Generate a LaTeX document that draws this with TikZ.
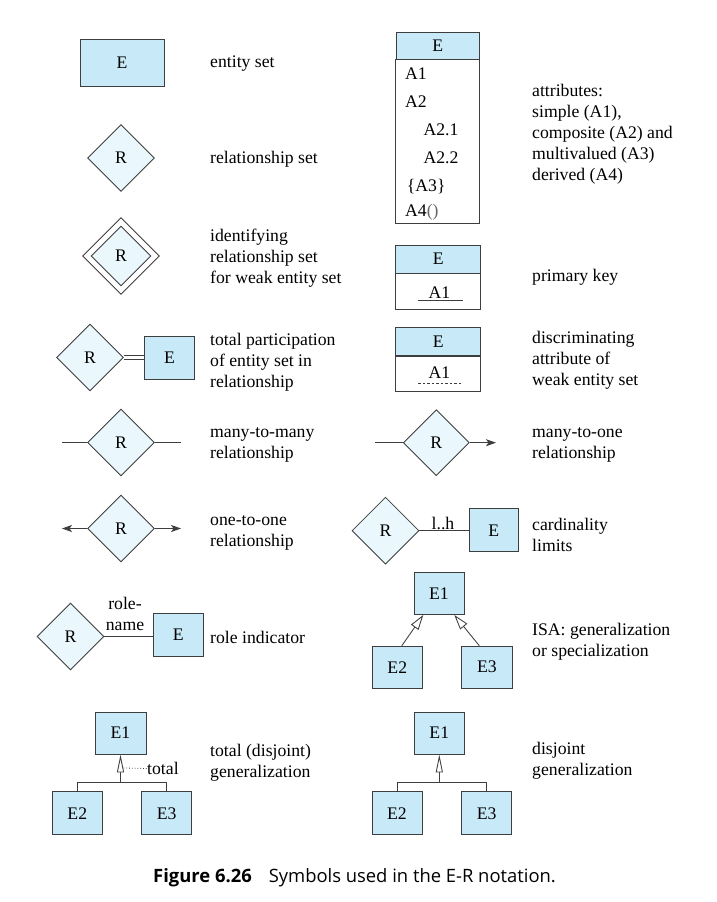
\documentclass[tikz,border=0pt]{standalone}
\usepackage{fontspec}
\setmainfont{Liberation Serif}
\newfontfamily\capfont{Open Sans}
\usetikzlibrary{shapes.geometric,arrows.meta,calc}

\definecolor{entfill}{RGB}{200,233,248}
\definecolor{relfill}{RGB}{234,247,253}
\definecolor{edgegray}{RGB}{62,62,62}

\tikzset{
  ent/.style={draw=edgegray, line width=0.95pt, fill=entfill, minimum width=50pt,
              minimum height=43pt, inner sep=0pt},
  rel/.style={draw=edgegray, line width=0.85pt, fill=relfill, shape=diamond, aspect=1,
              minimum width=67pt, minimum height=67pt, inner sep=0pt},
  lab/.style={anchor=west, align=left, inner sep=0pt},
  attr/.style={anchor=west, inner sep=0pt},
  conn/.style={draw=edgegray, line width=0.85pt},
  onetip/.style={conn, -{Stealth[length=10pt,width=7pt,inset=2.5pt]}},
  isatip/.style={conn, -{Triangle[open,length=15pt,width=9pt,fill=white]}},
  gentip/.style={conn, -{Triangle[open,length=18pt,width=7pt,fill=white]}},
  boxline/.style={draw=edgegray, line width=0.95pt}
}

\begin{document}
\begin{tikzpicture}[x=1pt,y=-1pt,font=\fontsize{17.7}{21}\selectfont]
\useasboundingbox (0,0) rectangle (717,902);
\fill[white] (0,0) rectangle (717,902);

% ---------- left column ----------
% entity set
\node[ent, minimum width=84pt, minimum height=47pt] (ent1) at (122,62.5) {E};
\node[lab] (lent) at (210,64) {entity set};

% relationship set
\node[rel] (rel1) at (121,158) {R};
\node[lab] (lrel) at (210,159.5) {relationship set};

% identifying relationship set
\node[rel, fill=white, minimum width=77pt, minimum height=77pt] (idout) at (121,256) {};
\node[rel, minimum width=60pt, minimum height=60pt] (idin) at (121,256) {R};
\node[lab] (lid) at (210,258.5) {identifying\\relationship set\\for weak entity set};

% total participation: two parallel lines between R and E
\node[rel] (tprel) at (90,357.5) {R};
\node[ent] (tpent) at (169.5,357.5) {E};
\draw[conn, line width=0.8pt] ([yshift=-1.7pt]tprel.east) -- ([yshift=-1.7pt]tpent.west);
\draw[conn, line width=0.8pt] ([yshift=1.7pt]tprel.east) -- ([yshift=1.7pt]tpent.west);
\node[lab] (ltp) at (210,362) {total participation\\of entity set in\\relationship};

% many-to-many
\coordinate (mmL) at (62,442.5);
\coordinate (mmR) at (181,442.5);
\node[rel] (mmrel) at (121,442.5) {R};
\draw[conn] (mmL) -- (mmrel.west);
\draw[conn] (mmrel.east) -- (mmR);
\node[lab] (lmm) at (210,444.5) {many-to-many\\relationship};

% one-to-one
\coordinate (ooL) at (62,528.5);
\coordinate (ooR) at (181,528.5);
\node[rel] (oorel) at (121,528.5) {R};
\draw[onetip] (oorel.west) -- (ooL);
\draw[onetip] (oorel.east) -- (ooR);
\node[lab] (loo) at (210,532.5) {one-to-one\\relationship};

% role indicator
\node[rel] (rorel) at (70.5,636.5) {R};
\node[ent] (roent) at (178.3,635) {E};
\draw[conn] (rorel.east) -- (roent.west |- rorel.east);
\node[align=center, inner sep=0pt] (roname) at (125,614) {role-\\name};
\node[lab] (lro) at (210,637.5) {role indicator};

% total (disjoint) generalization
\node[ent, minimum width=51pt, minimum height=42pt] (tgE1) at (120.5,733) {E1};
\node[ent, minimum width=49.5pt] (tgE2) at (77.3,813.3) {E2};
\node[ent, minimum width=50pt] (tgE3) at (166.7,813.3) {E3};
\coordinate (tgj) at (120.5,782.7);
\draw[conn] (tgE2.north) |- (tgj) -| (tgE3.north);
\draw[gentip] (tgj) -- (tgE1.south);
\coordinate (tgdot) at (123.5,768);
\node[attr] (tgtotal) at (147,768.5) {total};
\draw[conn, line width=0.8pt, dotted] (tgdot) -- (tgtotal.west);
\node[lab] (ltg) at (210,762.5) {total (disjoint)\\generalization};

% ---------- right column ----------
% attributes
\node[boxline, fill=entfill, minimum width=83.3pt, minimum height=27pt, inner sep=0pt]
  (atthead) at (437.7,45.8) {E};
\draw[boxline, fill=white] (atthead.south west) rectangle (479.3,223.3);
\node[attr] (a1) at (405,73.3) {A1};
\node[attr] (a2) at (405,101.7) {A2};
\node[attr] (a21) at (423.3,130) {A2.1};
\node[attr] (a22) at (423.3,157.7) {A2.2};
\node[attr] (a3) at (406.7,186.7) {\{A3\}};
\node[attr] (a4) at (405,212.7) {A4\textcolor{black!60}{()}};
\node[lab] (latt) at (532,134) {attributes:\\simple (A1),\\composite (A2) and\\multivalued (A3)\\derived (A4)};

% primary key
\node[boxline, fill=entfill, minimum width=84.7pt, minimum height=28.3pt, inner sep=0pt]
  (pkhead) at (438.3,259.2) {E};
\draw[boxline, fill=white] (pkhead.south west) rectangle (480.7,309.3);
\node[inner sep=0pt] (pka1) at (439.5,292.5) {A1};
\coordinate (pkul) at (418.3,300);
\coordinate (pkur) at (462.7,300);
\draw[conn, line width=1pt] (pkul) -- (pkur);
\node[lab] (lpk) at (532,277.5) {primary key};

% discriminating attribute
\node[boxline, fill=entfill, minimum width=84.7pt, minimum height=28.4pt, inner sep=0pt]
  (dahead) at (438.3,341.5) {E};
\draw[boxline, fill=white] (dahead.south west) rectangle (480.7,391);
\node[inner sep=0pt] (daa1) at (439.5,372.5) {A1};
\coordinate (daul) at (418.3,383.3);
\coordinate (daur) at (462.7,383.3);
\draw[conn, line width=0.8pt, dash pattern=on 2.5pt off 2pt] (daul) -- (daur);
\node[lab] (lda) at (532,360.5) {discriminating\\attribute of\\weak entity set};

% many-to-one
\coordinate (moL) at (375,442.7);
\coordinate (moR) at (496,442.7);
\node[rel, minimum width=66pt, minimum height=66pt] (morel) at (436.3,442.7) {R};
\draw[conn] (moL) -- (morel.west);
\draw[onetip] (morel.east) -- (moR);
\node[lab] (lmo) at (532,444.5) {many-to-one\\relationship};

% cardinality limits
\node[rel] (carel) at (385.5,530.7) {R};
\node[ent, minimum width=49pt] (caent) at (493.8,530.3) {E};
\draw[conn] (carel.east) -- (caent.west |- carel.east);
\node[inner sep=0pt] (calh) at (443,523) {l..h};
\node[lab] (lca) at (532,534.5) {cardinality\\limits};

% ISA
\node[ent, minimum width=50pt, minimum height=42pt] (isaE1) at (439,593.5) {E1};
\node[ent, minimum width=50pt, minimum height=42pt] (isaE2) at (397.3,667.2) {E2};
\node[ent, minimum width=50.5pt, minimum height=42pt] (isaE3) at (487,667.2) {E3};
\draw[isatip] ([xshift=4.5pt]isaE2.north) -- ([xshift=-15.7pt]isaE1.south);
\draw[isatip] ([xshift=-7.7pt]isaE3.north) -- ([xshift=15.3pt]isaE1.south);
\node[lab] (lisa) at (532,641.5) {ISA: generalization\\or specialization};

% disjoint generalization
\node[ent, minimum width=50pt, minimum height=42pt] (dgE1) at (439.3,733) {E1};
\node[ent, minimum width=50pt] (dgE2) at (397,813.3) {E2};
\node[ent, minimum width=50pt] (dgE3) at (486.7,813.3) {E3};
\coordinate (dgj) at (439.3,782.7);
\draw[conn] (dgE2.north) |- (dgj) -| (dgE3.north);
\draw[gentip] (dgj) -- (dgE1.south);
\node[lab] (ldg) at (532,760.5) {disjoint\\generalization};

% caption
\node[inner sep=0pt, font=\capfont\fontsize{18.4}{22}\selectfont] (caption) at (354.5,878)
  {\textbf{Figure 6.26}\hspace{17pt}Symbols used in the E-R notation.};
\end{tikzpicture}
\end{document}
